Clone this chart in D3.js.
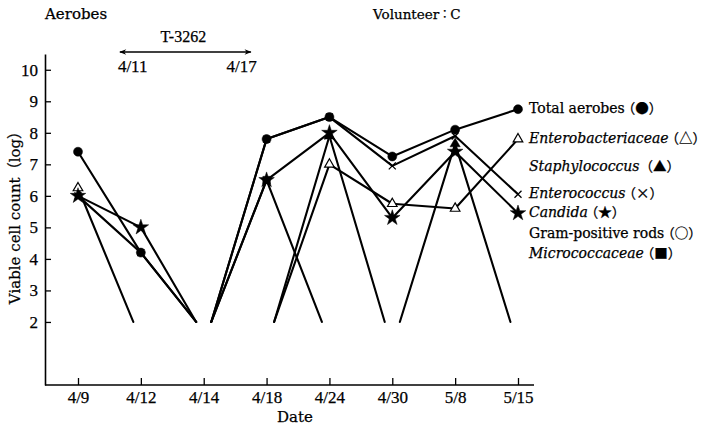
<!DOCTYPE html>
<html>
<head>
<meta charset="utf-8">
<script src="https://cdn.jsdelivr.net/npm/d3@7"></script>
<style>
  body { margin: 0; background: #fff; }
  svg text { fill: #000; }
</style>
</head>
<body>
<svg id="chart" width="707" height="429"></svg>
<script>
// ---- data (log viable counts; null = below detection limit) ----
const dates = ['4/9', '4/12', '4/14', '4/18', '4/24', '4/30', '5/8', '5/15'];
const yTicks = [2, 3, 4, 5, 6, 7, 8, 9, 10];
const detectionLimit = 2;

const totalAerobes       = [7.4, 4.2, null, 7.8, 8.5, 7.25, 8.1, 8.75];
const enterobacteriaceae = [6.25, null, null, null, 7.0, 5.75, 5.6, 7.8];
const staphylococcus     = [null, null, null, null, 7.9, null, 7.65, null];
const enterococcus       = [6.0, 4.2, null, 7.8, 8.5, 6.95, 7.9, 6.05];
const candida            = [6.0, 5.0, null, 6.5, 8.0, 5.3, 7.4, 5.45];
const gramPositiveRods   = [null, null, null, null, null, null, null, null];
const micrococcaceae     = [null, null, null, 6.5, null, null, null, null];

const drugName = 'T-3262';
const drugPeriod = ['4/11', '4/17'];

const series = [
  { name: 'Total aerobes', italic: false, sym: '●', marker: 'circle', values: totalAerobes },
  { name: 'Enterobacteriaceae', italic: true, sym: '△', marker: 'triangleOpen', values: enterobacteriaceae },
  { name: 'Staphylococcus', italic: true, sym: '▲', marker: 'triangle', values: staphylococcus, spaced: true },
  { name: 'Enterococcus', italic: true, sym: '×', marker: 'cross', values: enterococcus },
  { name: 'Candida', italic: true, sym: '★', marker: 'star', values: candida },
  { name: 'Gram-positive rods', italic: false, sym: '○', marker: 'circleOpen', values: gramPositiveRods },
  { name: 'Micrococcaceae', italic: true, sym: '■', marker: 'square', values: micrococcaceae }
];

const WORDS = '"DejaVu Serif", "Liberation Serif", serif';
const DIGITS = '"Liberation Serif", "DejaVu Serif", serif';
const CJK = '"Noto Sans CJK JP", "DejaVu Sans", sans-serif';

// ---- layout ----
const svg = d3.select('#chart');
const axisLeftX = 45, axisRightX = 534;

const x = d3.scalePoint().domain(dates).range([78, 518]);
const y = d3.scaleLinear().domain([0, 10.5]).range([385, 54]);
const gap = x.step() * 0.12; // where a line meets the detection limit

// piecewise time scale so the drug period sits between the sampled dates
const parseMD = s => { const [m, d] = s.split('/').map(Number); return new Date(1988, m - 1, d); };
const xTime = d3.scaleTime().domain(dates.map(parseMD)).range(dates.map(d => x(d)));

const font = (sel, family, size) => sel
  .style('font-family', family)
  .style('font-size', size + 'px')
  .style('stroke', '#000')
  .style('stroke-width', '0.25px');

// ---- axes ----
const yAxis = svg.append('g')
  .attr('transform', `translate(${axisLeftX},0)`)
  .call(d3.axisLeft(y).tickValues(yTicks).tickSizeInner(-6).tickSizeOuter(0).tickPadding(7));
font(yAxis.selectAll('text'), DIGITS, 17);

const xAxis = svg.append('g')
  .attr('transform', `translate(0,${y(0)})`)
  .call(d3.axisBottom(x).tickSizeInner(-7).tickSizeOuter(0).tickPadding(6));
xAxis.select('.domain').remove();
font(xAxis.selectAll('text'), DIGITS, 17);
xAxis.append('line')
  .attr('x1', axisLeftX).attr('x2', axisRightX)
  .attr('stroke', '#000').attr('stroke-width', 1.6);
svg.selectAll('.domain').attr('stroke-width', 1.6);
svg.selectAll('.tick line').attr('stroke-width', 1.3);

svg.append('text')
  .attr('x', 295).attr('y', 418)
  .attr('text-anchor', 'middle').attr('dominant-baseline', 'middle')
  .call(font, WORDS, 15)
  .text('Date');

const yLabel = svg.append('text')
  .attr('transform', `translate(16,214) rotate(-90)`)
  .attr('text-anchor', 'middle').attr('dominant-baseline', 'middle')
  .call(font, WORDS, 15);
yLabel.append('tspan').text('Viable cell count');
yLabel.append('tspan').style('font-family', CJK).text('（');
yLabel.append('tspan').text('log');
yLabel.append('tspan').style('font-family', CJK).text('）');

// ---- titles ----
svg.append('text')
  .attr('x', axisLeftX).attr('y', 15)
  .attr('dominant-baseline', 'middle')
  .call(font, WORDS, 15)
  .text('Aerobes');

const vol = svg.append('text')
  .attr('x', 373).attr('y', 15)
  .attr('dominant-baseline', 'middle')
  .call(font, WORDS, 13.5);
vol.append('tspan').text('Volunteer');
vol.append('tspan').style('font-family', CJK).style('font-size', '11px').text('：');
vol.append('tspan').text('C');

// ---- drug administration period ----
const p0 = xTime(parseMD(drugPeriod[0])), p1 = xTime(parseMD(drugPeriod[1]));
const defs = svg.append('defs');
defs.append('marker')
  .attr('id', 'arrow').attr('viewBox', '0 0 10 10')
  .attr('refX', 9).attr('refY', 5)
  .attr('markerWidth', 10).attr('markerHeight', 7)
  .attr('markerUnits', 'userSpaceOnUse')
  .attr('orient', 'auto-start-reverse')
  .append('path').attr('d', 'M0,1 L10,5 L0,9 L3,5 Z').attr('fill', '#000');

svg.append('line')
  .attr('x1', p0).attr('x2', p1).attr('y1', 52).attr('y2', 52)
  .attr('stroke', '#000').attr('stroke-width', 1.6)
  .attr('marker-start', 'url(#arrow)').attr('marker-end', 'url(#arrow)');

svg.append('text')
  .attr('x', (p0 + p1) / 2 - 2).attr('y', 38)
  .attr('text-anchor', 'middle').attr('dominant-baseline', 'middle')
  .call(font, DIGITS, 16)
  .text(drugName);

svg.append('text')
  .attr('x', p0 - 2).attr('y', 68)
  .attr('dominant-baseline', 'middle')
  .call(font, DIGITS, 17)
  .text(drugPeriod[0]);

svg.append('text')
  .attr('x', p1 + 6).attr('y', 68)
  .attr('text-anchor', 'end').attr('dominant-baseline', 'middle')
  .call(font, DIGITS, 17)
  .text(drugPeriod[1]);

// ---- lines: breaks where counts fall below the detection limit ----
function segments(values) {
  const segs = [];
  for (let i = 0; i < values.length - 1; i++) {
    const a = values[i], b = values[i + 1];
    if (a == null && b == null) continue;
    const xa = x(dates[i]), xb = x(dates[i + 1]);
    segs.push([
      a == null ? [xa + gap, y(detectionLimit)] : [xa, y(a)],
      b == null ? [xb - gap, y(detectionLimit)] : [xb, y(b)]
    ]);
  }
  return segs;
}

const lineG = svg.append('g');
series.forEach(s => {
  lineG.selectAll(null)
    .data(segments(s.values))
    .join('line')
    .attr('x1', d => d[0][0]).attr('y1', d => d[0][1])
    .attr('x2', d => d[1][0]).attr('y2', d => d[1][1])
    .attr('stroke', '#000')
    .attr('stroke-width', 2.1)
    .attr('stroke-linecap', 'round');
});

// ---- markers ----
const markerPath = {
  circle: d3.symbol(d3.symbolCircle, 64)(),
  circleOpen: d3.symbol(d3.symbolCircle, 50)(),
  triangle: d3.symbol(d3.symbolTriangle, 45)(),
  triangleOpen: d3.symbol(d3.symbolTriangle, 40)(),
  star: d3.symbol(d3.symbolStar, 75)(),
  square: d3.symbol(d3.symbolSquare, 56)(),
  cross: 'M-3.5,-3.5L3.5,3.5M-3.5,3.5L3.5,-3.5'
};

const markG = svg.append('g');
// draw open/background markers first, solid ones on top
['cross', 'triangleOpen', 'circleOpen', 'square', 'triangle', 'star', 'circle'].forEach(m => {
  series.filter(s => s.marker === m).forEach(s => {
    markG.selectAll(null)
      .data(s.values.map((v, i) => ({ v, date: dates[i] })).filter(d => d.v != null))
      .join('path')
      .attr('transform', d => `translate(${x(d.date)},${y(d.v)})`)
      .attr('d', markerPath[m])
      .attr('fill', m === 'triangleOpen' || m === 'circleOpen' ? '#fff' : (m === 'cross' ? 'none' : '#000'))
      .attr('stroke', '#000')
      .attr('stroke-width', m === 'cross' ? 1.3 : (m === 'triangleOpen' || m === 'circleOpen' ? 1.2 : 0.5));
  });
});

// ---- legend labels at the right end ----
const lastIdx = dates.length - 1;
const labelX = x(dates[lastIdx]) + 11;
const labelY = series.map(s => s.values[lastIdx] != null ? y(s.values[lastIdx]) : null);
series.forEach((s, i) => {
  if (labelY[i] != null) return;
  const next = labelY.findIndex((v, j) => j > i && v != null);
  labelY[i] = next >= 0 ? (labelY[i - 1] + labelY[next]) / 2 : labelY[i - 1] + 20.5;
});

series.forEach((s, i) => {
  const t = svg.append('text')
    .attr('x', labelX).attr('y', labelY[i])
    .attr('dominant-baseline', 'middle')
    .call(font, WORDS, 14);
  t.append('tspan').style('font-style', s.italic ? 'italic' : 'normal').text(s.name);
  t.append('tspan')
    .attr('dx', s.spaced ? 0 : -3)
    .style('font-family', CJK).style('font-size', '13.5px')
    .text('（' + s.sym + '）');
});
</script>
</body>
</html>
